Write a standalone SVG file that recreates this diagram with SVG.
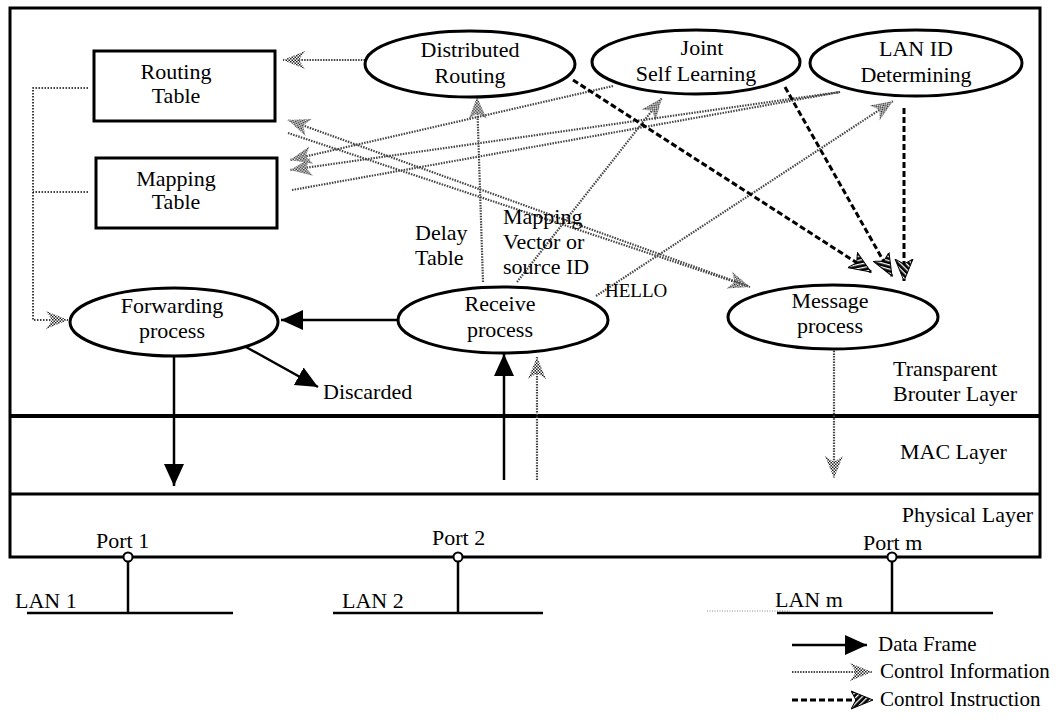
<svg xmlns="http://www.w3.org/2000/svg" width="1059" height="722" viewBox="0 0 1059 722">
<style>
text{font-family:"Liberation Serif","Times New Roman",serif;font-size:22px;fill:#000}
.mid{text-anchor:middle}
.node{fill:#fff;stroke:#000;stroke-width:3}
.data{fill:none;stroke:#000;stroke-width:2.5}
.info{fill:none;stroke:#444;stroke-width:2.2;stroke-dasharray:1.5 1.2}
.inst{fill:none;stroke:#000;stroke-width:3;stroke-dasharray:6 3}
.brk{fill:none;stroke:#000;stroke-width:1.5;stroke-dasharray:1.5 1.5}
.lan{fill:none;stroke:#000;stroke-width:2.5}
</style>
<defs>
<pattern id="chk" width="3" height="3" patternUnits="userSpaceOnUse"><rect width="3" height="3" fill="#fff"/><rect width="1.5" height="1.5" fill="#222"/><rect x="1.5" y="1.5" width="1.5" height="1.5" fill="#222"/></pattern>
<pattern id="hatch" width="4" height="4" patternUnits="userSpaceOnUse" patternTransform="rotate(45)"><rect width="4" height="4" fill="#000"/><rect width="1.3" height="4" fill="#fff"/></pattern>
<marker id="mData" markerUnits="userSpaceOnUse" markerWidth="24" markerHeight="24" viewBox="0 0 24 24" refX="22" refY="12" orient="auto"><path d="M0,2 L22,12 L0,22 Z" fill="#000"/></marker>
<marker id="mInfo" markerUnits="userSpaceOnUse" markerWidth="24" markerHeight="20" viewBox="0 0 24 20" refX="22" refY="10" orient="auto"><path d="M0,1 L22,10 L0,19 L6,10 Z" fill="url(#chk)"/></marker>
<marker id="mInst" markerUnits="userSpaceOnUse" markerWidth="24" markerHeight="20" viewBox="0 0 24 20" refX="22" refY="10" orient="auto"><path d="M0,1 L22,10 L0,19 L5,10 Z" fill="url(#hatch)" stroke="#000" stroke-width="1"/></marker>
</defs>

<g id="frame">
<rect x="10" y="8" width="1030" height="549" fill="none" stroke="#000" stroke-width="3"/>
<line x1="10" y1="416" x2="1040" y2="416" stroke="#000" stroke-width="4"/>
<line x1="10" y1="494" x2="1040" y2="494" stroke="#000" stroke-width="3"/>
<text x="893" y="376">Transparent</text>
<text x="893" y="401">Brouter Layer</text>
<text x="900" y="459">MAC Layer</text>
<text x="1033" y="522" text-anchor="end">Physical Layer</text>
</g>

<g id="connectors">
<path class="brk" d="M88,88 L33,88 L33,320 L68,320" marker-end="url(#mInfo)"/>
<path class="brk" d="M88,192 L33,192"/>
<path class="info" d="M365,60 L283,60" marker-end="url(#mInfo)"/>
<path class="info" d="M483,282 L477,97" marker-end="url(#mInfo)"/>
<path class="info" d="M517,282 L662,98" marker-end="url(#mInfo)"/>
<path class="info" d="M596,296 L893,101" marker-end="url(#mInfo)"/>
<path class="info" d="M613,86 L290,160" marker-end="url(#mInfo)"/>
<path class="info" d="M840,92 L290,170" marker-end="url(#mInfo)"/>
<path class="info" d="M292,190 L840,92"/>
<path class="info" d="M288,133 L750,287" marker-end="url(#mInfo)"/>
<path class="info" d="M748,286 L288,120" marker-end="url(#mInfo)"/>
<path class="info" d="M537,480 L537,357" marker-end="url(#mInfo)"/>
<path class="info" d="M834,348 L834,478" marker-end="url(#mInfo)"/>
<path class="inst" d="M573,80 L871,272" marker-end="url(#mInst)"/>
<path class="inst" d="M785,87 L892,276" marker-end="url(#mInst)"/>
<path class="inst" d="M904,108 L904,281" marker-end="url(#mInst)"/>
<path class="data" d="M398,320 L281,320" marker-end="url(#mData)"/>
<path class="data" d="M246,347 L318,387" marker-end="url(#mData)"/>
<path class="data" d="M174,356 L174,486" marker-end="url(#mData)"/>
<path class="data" d="M504,480 L504,354" marker-end="url(#mData)"/>
</g>

<g id="routing-table"><rect class="node" x="94" y="51" width="181" height="70"/><text class="mid" x="176" y="79">Routing</text><text class="mid" x="176" y="103">Table</text></g>
<g id="mapping-table"><rect class="node" x="96" y="158" width="181" height="70"/><text class="mid" x="176" y="186">Mapping</text><text class="mid" x="176" y="209">Table</text></g>
<g id="distributed-routing"><ellipse class="node" cx="470" cy="64" rx="105" ry="33"/><text class="mid" x="470" y="57">Distributed</text><text class="mid" x="470" y="83">Routing</text></g>
<g id="joint-self-learning"><ellipse class="node" cx="696" cy="62" rx="104" ry="32"/><text class="mid" x="702" y="55">Joint</text><text class="mid" x="696" y="81">Self Learning</text></g>
<g id="lan-id-determining"><ellipse class="node" cx="916" cy="63" rx="106" ry="33"/><text class="mid" x="916" y="56">LAN ID</text><text class="mid" x="916" y="82">Determining</text></g>
<g id="forwarding-process"><ellipse class="node" cx="174" cy="322" rx="104" ry="34"/><text class="mid" x="172" y="313">Forwarding</text><text class="mid" x="172" y="338">process</text></g>
<g id="receive-process"><ellipse class="node" cx="503" cy="320" rx="105" ry="33"/><text class="mid" x="500" y="311">Receive</text><text class="mid" x="500" y="337">process</text></g>
<g id="message-process"><ellipse class="node" cx="833" cy="317" rx="105" ry="32"/><text class="mid" x="830" y="308">Message</text><text class="mid" x="830" y="333">process</text></g>

<g id="labels">
<text x="323" y="399">Discarded</text>
<text x="415" y="240">Delay</text>
<text x="415" y="265">Table</text>
<text x="503" y="224">Mapping</text>
<text x="503" y="249">Vector or</text>
<text x="503" y="274">source ID</text>
<text x="605" y="297" style="font-size:19px">HELLO</text>
</g>

<g id="ports">
<line class="lan" x1="27" y1="613" x2="233" y2="613"/><line class="lan" x1="128" y1="561" x2="128" y2="613"/><circle cx="128" cy="557" r="4.5" fill="#fff" stroke="#000" stroke-width="2"/>
<text x="96" y="548">Port  1</text><text x="15" y="608">LAN 1</text>
<line class="lan" x1="333" y1="613" x2="543" y2="613"/><line class="lan" x1="458" y1="561" x2="458" y2="613"/><circle cx="458" cy="557" r="4.5" fill="#fff" stroke="#000" stroke-width="2"/>
<text x="432" y="545">Port  2</text><text x="342" y="608">LAN 2</text>
<line x1="707" y1="611" x2="790" y2="611" stroke="#888" stroke-width="1" stroke-dasharray="1 1.5"/>
<line class="lan" x1="777" y1="613" x2="993" y2="613"/><line class="lan" x1="892" y1="561" x2="892" y2="613"/><circle cx="892" cy="557" r="4.5" fill="#fff" stroke="#000" stroke-width="2"/>
<text x="863" y="550">Port  m</text><text x="775" y="607">LAN m</text>
</g>

<g id="legend">
<path class="data" d="M792,645 L867,645" marker-end="url(#mData)"/>
<text x="878" y="651" style="font-size:21px">Data Frame</text>
<path class="info" d="M792,672 L872,672" marker-end="url(#mInfo)"/>
<text x="880" y="678" style="font-size:21px">Control Information</text>
<path class="inst" d="M792,700 L873,700" marker-end="url(#mInst)"/>
<text x="880" y="706" style="font-size:21px">Control  Instruction</text>
</g>
</svg>
